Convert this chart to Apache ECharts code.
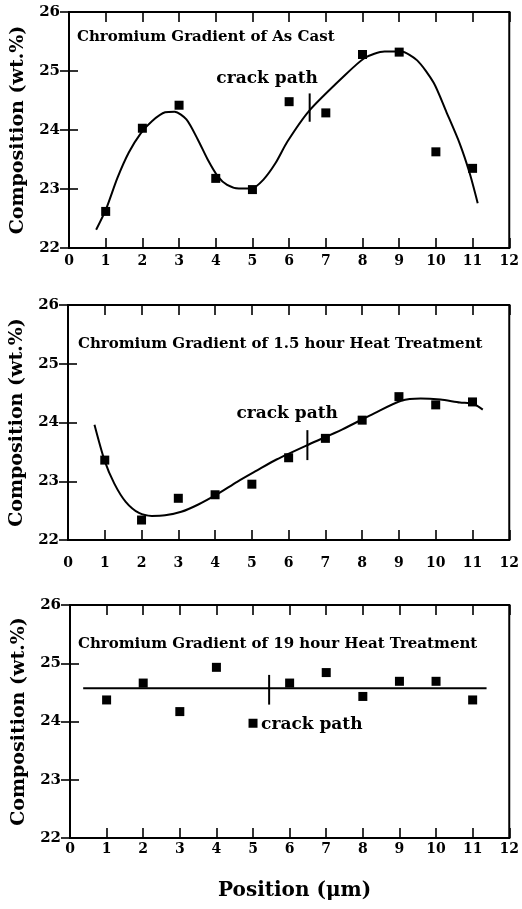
<!DOCTYPE html>
<html><head><meta charset="utf-8">
<script src="https://cdn.jsdelivr.net/npm/echarts@6/dist/echarts.min.js"></script>
<style>html,body{margin:0;padding:0;background:#fff}#c{width:522px;height:909px}</style>
</head><body><div id="c"></div>
<script>
// ---- data ----
var positions = [1,2,3,4,5,6,7,8,9,10,11];
var asCast = [22.62,24.03,24.42,23.18,22.99,24.48,24.29,25.28,25.32,23.63,23.35];
var heat15 = [23.36,22.34,22.71,22.77,22.95,23.40,23.73,24.04,24.44,24.30,24.35];
var heat19 = [24.37,24.66,24.17,24.93,23.97,24.66,24.84,24.43,24.69,24.69,24.37];
var fitAsCastX = [0.74,1.01,1.32,1.63,1.95,2.26,2.62,2.88,3.2,3.51,3.78,4.05,4.31,4.63,4.98,5.3,5.63,5.95,6.54,7.44,8.06,8.6,9.05,9.49,9.94,10.29,10.65,10.92,11.14];
var fitAsCastY = [22.31,22.66,23.19,23.62,23.94,24.15,24.3,24.31,24.18,23.84,23.5,23.22,23.07,23.01,23.01,23.16,23.44,23.8,24.32,24.88,25.22,25.33,25.33,25.18,24.8,24.3,23.77,23.27,22.76];
var fit15X = [0.72,0.99,1.26,1.57,1.93,2.28,2.64,3.08,3.53,4.06,4.6,5.13,5.67,6.56,7.45,8.34,9.06,9.59,10.13,10.66,11.02,11.28];
var fit15Y = [23.96,23.36,22.96,22.65,22.46,22.41,22.42,22.48,22.6,22.78,22.99,23.18,23.37,23.63,23.88,24.16,24.37,24.41,24.39,24.34,24.32,24.22];
var fit19X = [0.36,11.38];
var fit19Y = [24.57,24.57];
var crackX = [6.56,6.51,5.44];
var crackLo = [24.14,23.36,24.29];
var crackHi = [24.62,23.87,24.8];
var crackLabelPos = [[5.4,24.87],[5.96,24.16],[5.22,23.94]];
var titles = ['Chromium Gradient of As Cast','Chromium Gradient of 1.5 hour Heat Treatment','Chromium Gradient of 19 hour Heat Treatment'];
var xTicks = [0,1,2,3,4,5,6,7,8,9,10,11,12];
var yTicks = [22,23,24,25,26];
var yName = 'Composition (wt.%)';
var xName = 'Position (\u03bcm)';

// ---- layout ----
var FONT = 'DejaVu Serif';
var grids = [
  {left:69, top:12, width:448, height:236, xMargin:6},
  {left:68, top:305, width:449, height:235, xMargin:16},
  {left:70, top:605, width:448, height:233, xMargin:4}
];
var titleTops = [25, 332, 632];
var titleLefts = [72, 73, 73];
var pts = [asCast, heat15, heat19];
var fits = [[fitAsCastX,fitAsCastY],[fit15X,fit15Y],[fit19X,fit19Y]];

var option = {
  animation:false,
  backgroundColor:'#fff',
  grid:[], xAxis:[], yAxis:[], series:[], title:[]
};
function pair(xs, ys){ return xs.map(function(x,i){return [x, ys[i]];}); }
grids.forEach(function(g,i){
  option.grid.push({left:g.left, top:g.top, width:g.width, height:g.height, show:true, borderColor:'#000', borderWidth:2, backgroundColor:'transparent'});
  var axLine = {show:true, lineStyle:{color:'#000', width:2}};
  var tick = {show:true, inside:true, length:10, lineStyle:{color:'#000', width:1.6}};
  option.xAxis.push({gridIndex:i, type:'value', min:xTicks[0], max:xTicks[xTicks.length-1], interval:1, position:'bottom',
    axisLine:axLine, axisTick:tick, splitLine:{show:false},
    axisLabel:{show:true, margin:g.xMargin, color:'#000', fontFamily:FONT, fontWeight:'bold', fontSize:14},
    name: i===2 ? xName : '', nameLocation:'middle', nameGap:43,
    nameTextStyle:{color:'#000', fontFamily:FONT, fontWeight:'bold', fontSize:20, padding:[0,0,0,10]}});
  option.xAxis.push({gridIndex:i, type:'value', min:xTicks[0], max:xTicks[xTicks.length-1], interval:1, position:'top',
    axisLine:axLine, axisTick:tick, splitLine:{show:false}, axisLabel:{show:false}});
  option.yAxis.push({gridIndex:i, type:'value', min:yTicks[0], max:yTicks[yTicks.length-1], interval:1, position:'left',
    axisLine:axLine, axisTick:{show:true, inside:true, length:9, lineStyle:{color:'#000', width:1.6}}, splitLine:{show:false},
    axisLabel:{show:true, margin:9, color:'#000', fontFamily:FONT, fontWeight:'bold', fontSize:15},
    name:yName, nameLocation:'middle', nameGap:41,
    nameTextStyle:{color:'#000', fontFamily:FONT, fontWeight:'bold', fontSize:19}});
  option.yAxis.push({gridIndex:i, type:'value', min:yTicks[0], max:yTicks[yTicks.length-1], interval:1, position:'right',
    axisLine:axLine, axisTick:{show:true, inside:true, length:9, lineStyle:{color:'#000', width:1.6}}, splitLine:{show:false}, axisLabel:{show:false}});

  option.title.push({text:titles[i], left:titleLefts[i], top:titleTops[i],
    textStyle:{color:'#000', fontFamily:FONT, fontWeight:'bold', fontSize:15}});

  var xi = i*2, yi = i*2;
  option.series.push({type:'line', xAxisIndex:xi, yAxisIndex:yi, data:pair(fits[i][0], fits[i][1]),
    smooth: i===2 ? false : 0.25, showSymbol:false, symbol:'none', lineStyle:{color:'#000', width:2}});
  option.series.push({type:'scatter', xAxisIndex:xi, yAxisIndex:yi, data:pair(positions, pts[i]),
    symbol:'rect', symbolSize:9, itemStyle:{color:'#000', opacity:1}});
  option.series.push({type:'line', xAxisIndex:xi, yAxisIndex:yi, data:[[crackX[i],crackLo[i]],[crackX[i],crackHi[i]]],
    showSymbol:false, symbol:'none', lineStyle:{color:'#000', width:2}});
  option.series.push({type:'scatter', xAxisIndex:xi, yAxisIndex:yi, data:[crackLabelPos[i]], symbolSize:0,
    itemStyle:{opacity:1},
    label:{show:true, formatter:'crack path', position:'inside', align: i===2 ? 'left' : 'center', verticalAlign:'middle',
      color:'#000', fontFamily:FONT, fontWeight:'bold', fontSize:17}});
});
var chart = echarts.init(document.getElementById('c'), null, {renderer:'canvas'});
chart.setOption(option);
</script></body></html>
